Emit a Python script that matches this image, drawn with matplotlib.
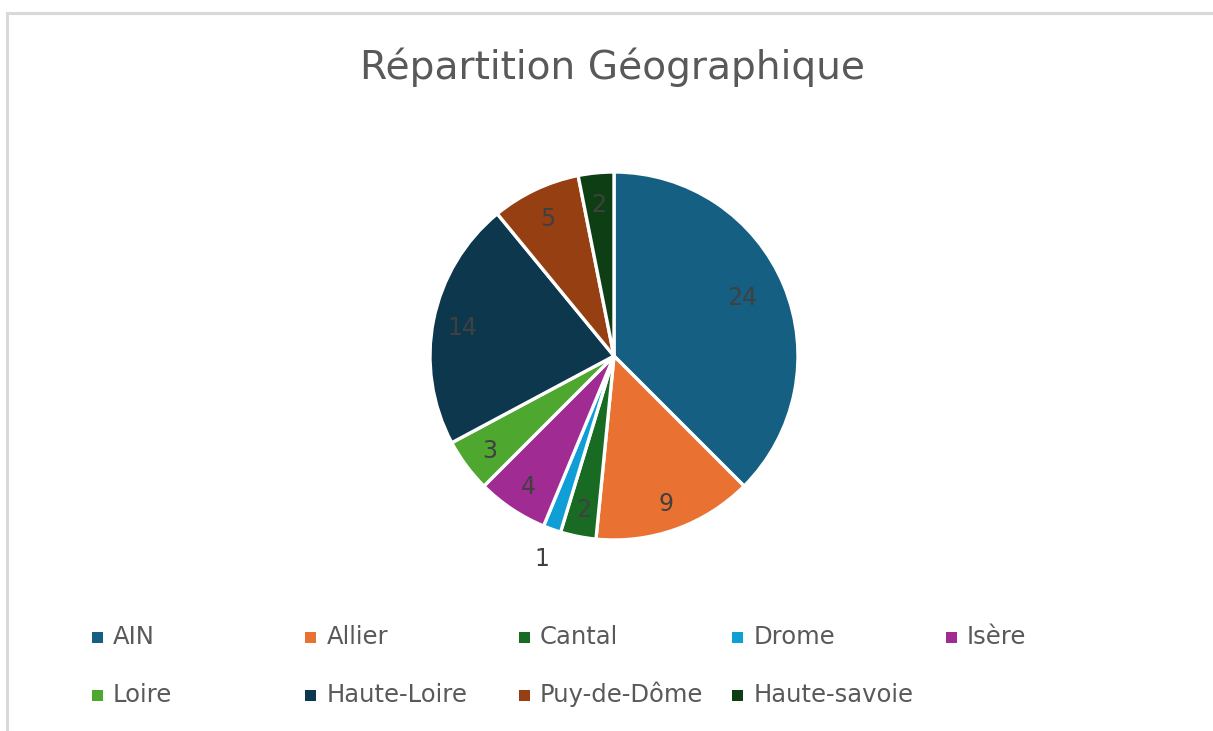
import matplotlib
matplotlib.use("Agg")
import matplotlib.pyplot as plt
from matplotlib.patches import Rectangle
import numpy as np

categories = ["AIN", "Allier", "Cantal", "Drome", "Isère", "Loire",
              "Haute-Loire", "Puy-de-Dôme", "Haute-savoie"]
values = [24, 9, 2, 1, 4, 3, 14, 5, 2]
colors = ["#156082", "#E97132", "#196B24", "#0F9ED5", "#A02B93",
          "#4EA72E", "#0C374D", "#953F12", "#0E3F14"]
title = "Répartition Géographique"

plt.rcParams['font.family'] = ['DejaVu Sans']

W, H = 1213, 731
fig = plt.figure(figsize=(W / 100, H / 100), dpi=100)
fig.patch.set_facecolor("white")

# chart frame (light gray), left and top visible
fig.add_artist(plt.Line2D([7 / W, 7 / W], [0, 1 - 13 / H], color="#D9D9D9",
                          lw=2.2, transform=fig.transFigure))
fig.add_artist(plt.Line2D([7 / W, 1], [1 - 13 / H, 1 - 13 / H], color="#D9D9D9",
                          lw=2.2, transform=fig.transFigure))

# pie axes
cx, cy, r = 614, 356, 184
ax = fig.add_axes([(cx - r) / W, (H - cy - r) / H, 2 * r / W, 2 * r / H])
wedges, _ = ax.pie(values, colors=colors, startangle=90, counterclock=False,
                   wedgeprops=dict(edgecolor="white", linewidth=2.4))
ax.set_xlim(-1, 1)
ax.set_ylim(-1, 1)

total = sum(values)
cum = 0
for v in values:
    mid = (cum + v / 2) / total * 360
    ang = np.deg2rad(90 - mid)
    if v / total < 0.02:
        d = 1.16
    elif v == max(values):
        d = 0.77
        ang += np.deg2rad(3)
    else:
        d = 0.84
    ax.text(d * np.cos(ang), d * np.sin(ang), str(v), ha="center",
            va="center_baseline", fontsize=17, color="#404040")
    cum += v

fig.text(612 / W, 1 - 79 / H, title, ha="center", va="baseline",
         fontsize=28.2, color="#595959")

# legend, 5 columns x 2 rows
x0, dx = 97, 213.5
rows_base = [644, 702]
for i, (name, col) in enumerate(zip(categories, colors)):
    row, c = divmod(i, 5)
    x = x0 + c * dx
    yb = rows_base[row]
    fig.add_artist(Rectangle(((x - 5.5) / W, 1 - (yb - 1) / H), 11 / W, 11 / H,
                             transform=fig.transFigure, facecolor=col,
                             edgecolor="none"))
    fig.text((x + 16) / W, 1 - yb / H, name, ha="left", va="baseline",
             fontsize=17.5, color="#595959")

fig.savefig("out.png", dpi=100)
